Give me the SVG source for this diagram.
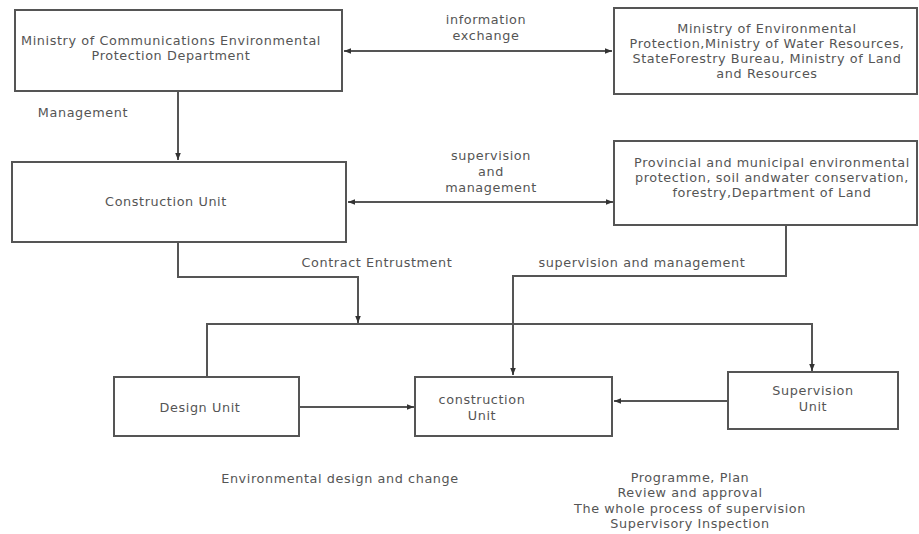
<svg xmlns="http://www.w3.org/2000/svg" width="919" height="534" viewBox="0 0 919 534">
<style>
.box{fill:#fff;stroke:#555;stroke-width:2}
.t{font-family:"DejaVu Sans","Noto Sans",sans-serif;font-size:12.8px;letter-spacing:0.6px;fill:#555;text-anchor:middle}
.c{fill:none;stroke:#555;stroke-width:2}
</style>
<defs>
<marker id="ah" viewBox="0 0 10 10" refX="10" refY="5" markerWidth="7" markerHeight="7" orient="auto-start-reverse" markerUnits="userSpaceOnUse">
<path d="M0,1 L10,5 L0,9 z" fill="#333"/>
</marker>
</defs>
<rect width="919" height="534" fill="#fff"/>
<g id="connectors">
<line class="c" x1="344" y1="51" x2="612" y2="51" marker-start="url(#ah)" marker-end="url(#ah)"/>
<line class="c" x1="178" y1="91" x2="178" y2="160" marker-end="url(#ah)"/>
<line class="c" x1="348" y1="202" x2="613" y2="202" marker-start="url(#ah)" marker-end="url(#ah)"/>
<polyline class="c" points="178,242 178,277 358,277 358,323" marker-end="url(#ah)"/>
<polyline class="c" points="207,376 207,324 812,324 812,371" marker-end="url(#ah)"/>
<polyline class="c" points="786,225 786,276 513,276 513,375" marker-end="url(#ah)"/>
<line class="c" x1="299" y1="407" x2="414" y2="407" marker-end="url(#ah)"/>
<line class="c" x1="728" y1="401" x2="614" y2="401" marker-end="url(#ah)"/>
<text class="t" x="486" y="24">information</text>
<text class="t" x="486" y="40">exchange</text>
<text class="t" x="83" y="117">Management</text>
<text class="t" x="491" y="160">supervision</text>
<text class="t" x="491" y="176">and</text>
<text class="t" x="491" y="192">management</text>
<text class="t" x="377" y="267">Contract Entrustment</text>
<text class="t" x="642" y="267">supervision and management</text>
<text class="t" x="340" y="483">Environmental design and change</text>
<text class="t" x="690" y="482">Programme, Plan</text>
<text class="t" x="690" y="497">Review and approval</text>
<text class="t" x="690" y="513">The whole process of supervision</text>
<text class="t" x="690" y="528">Supervisory Inspection</text>
</g>
<g id="ministry-comm">
<rect class="box" x="15" y="10" width="327" height="81"/>
<text class="t" x="171" y="45">Ministry of Communications Environmental</text>
<text class="t" x="171" y="60">Protection Department</text>
</g>
<g id="ministry-env">
<rect class="box" x="614" y="8" width="303" height="86"/>
<text class="t" x="767" y="33">Ministry of Environmental</text>
<text class="t" x="767" y="48">Protection,Ministry of Water Resources,</text>
<text class="t" x="767" y="63">StateForestry Bureau, Ministry of Land</text>
<text class="t" x="767" y="78">and Resources</text>
</g>
<g id="construction-unit-top">
<rect class="box" x="12" y="162" width="334" height="80"/>
<text class="t" x="166" y="206">Construction Unit</text>
</g>
<g id="provincial">
<rect class="box" x="614" y="141" width="303" height="84"/>
<text class="t" x="772" y="167">Provincial and municipal environmental</text>
<text class="t" x="772" y="182">protection, soil andwater conservation,</text>
<text class="t" x="772" y="197">forestry,Department of Land</text>
</g>
<g id="design-unit">
<rect class="box" x="114" y="377" width="185" height="59"/>
<text class="t" x="200" y="412">Design Unit</text>
</g>
<g id="construction-unit">
<rect class="box" x="415" y="377" width="197" height="59"/>
<text class="t" x="482" y="404">construction</text>
<text class="t" x="482" y="420">Unit</text>
</g>
<g id="supervision-unit">
<rect class="box" x="728" y="372" width="170" height="57"/>
<text class="t" x="813" y="395">Supervision</text>
<text class="t" x="813" y="411">Unit</text>
</g>
</svg>
